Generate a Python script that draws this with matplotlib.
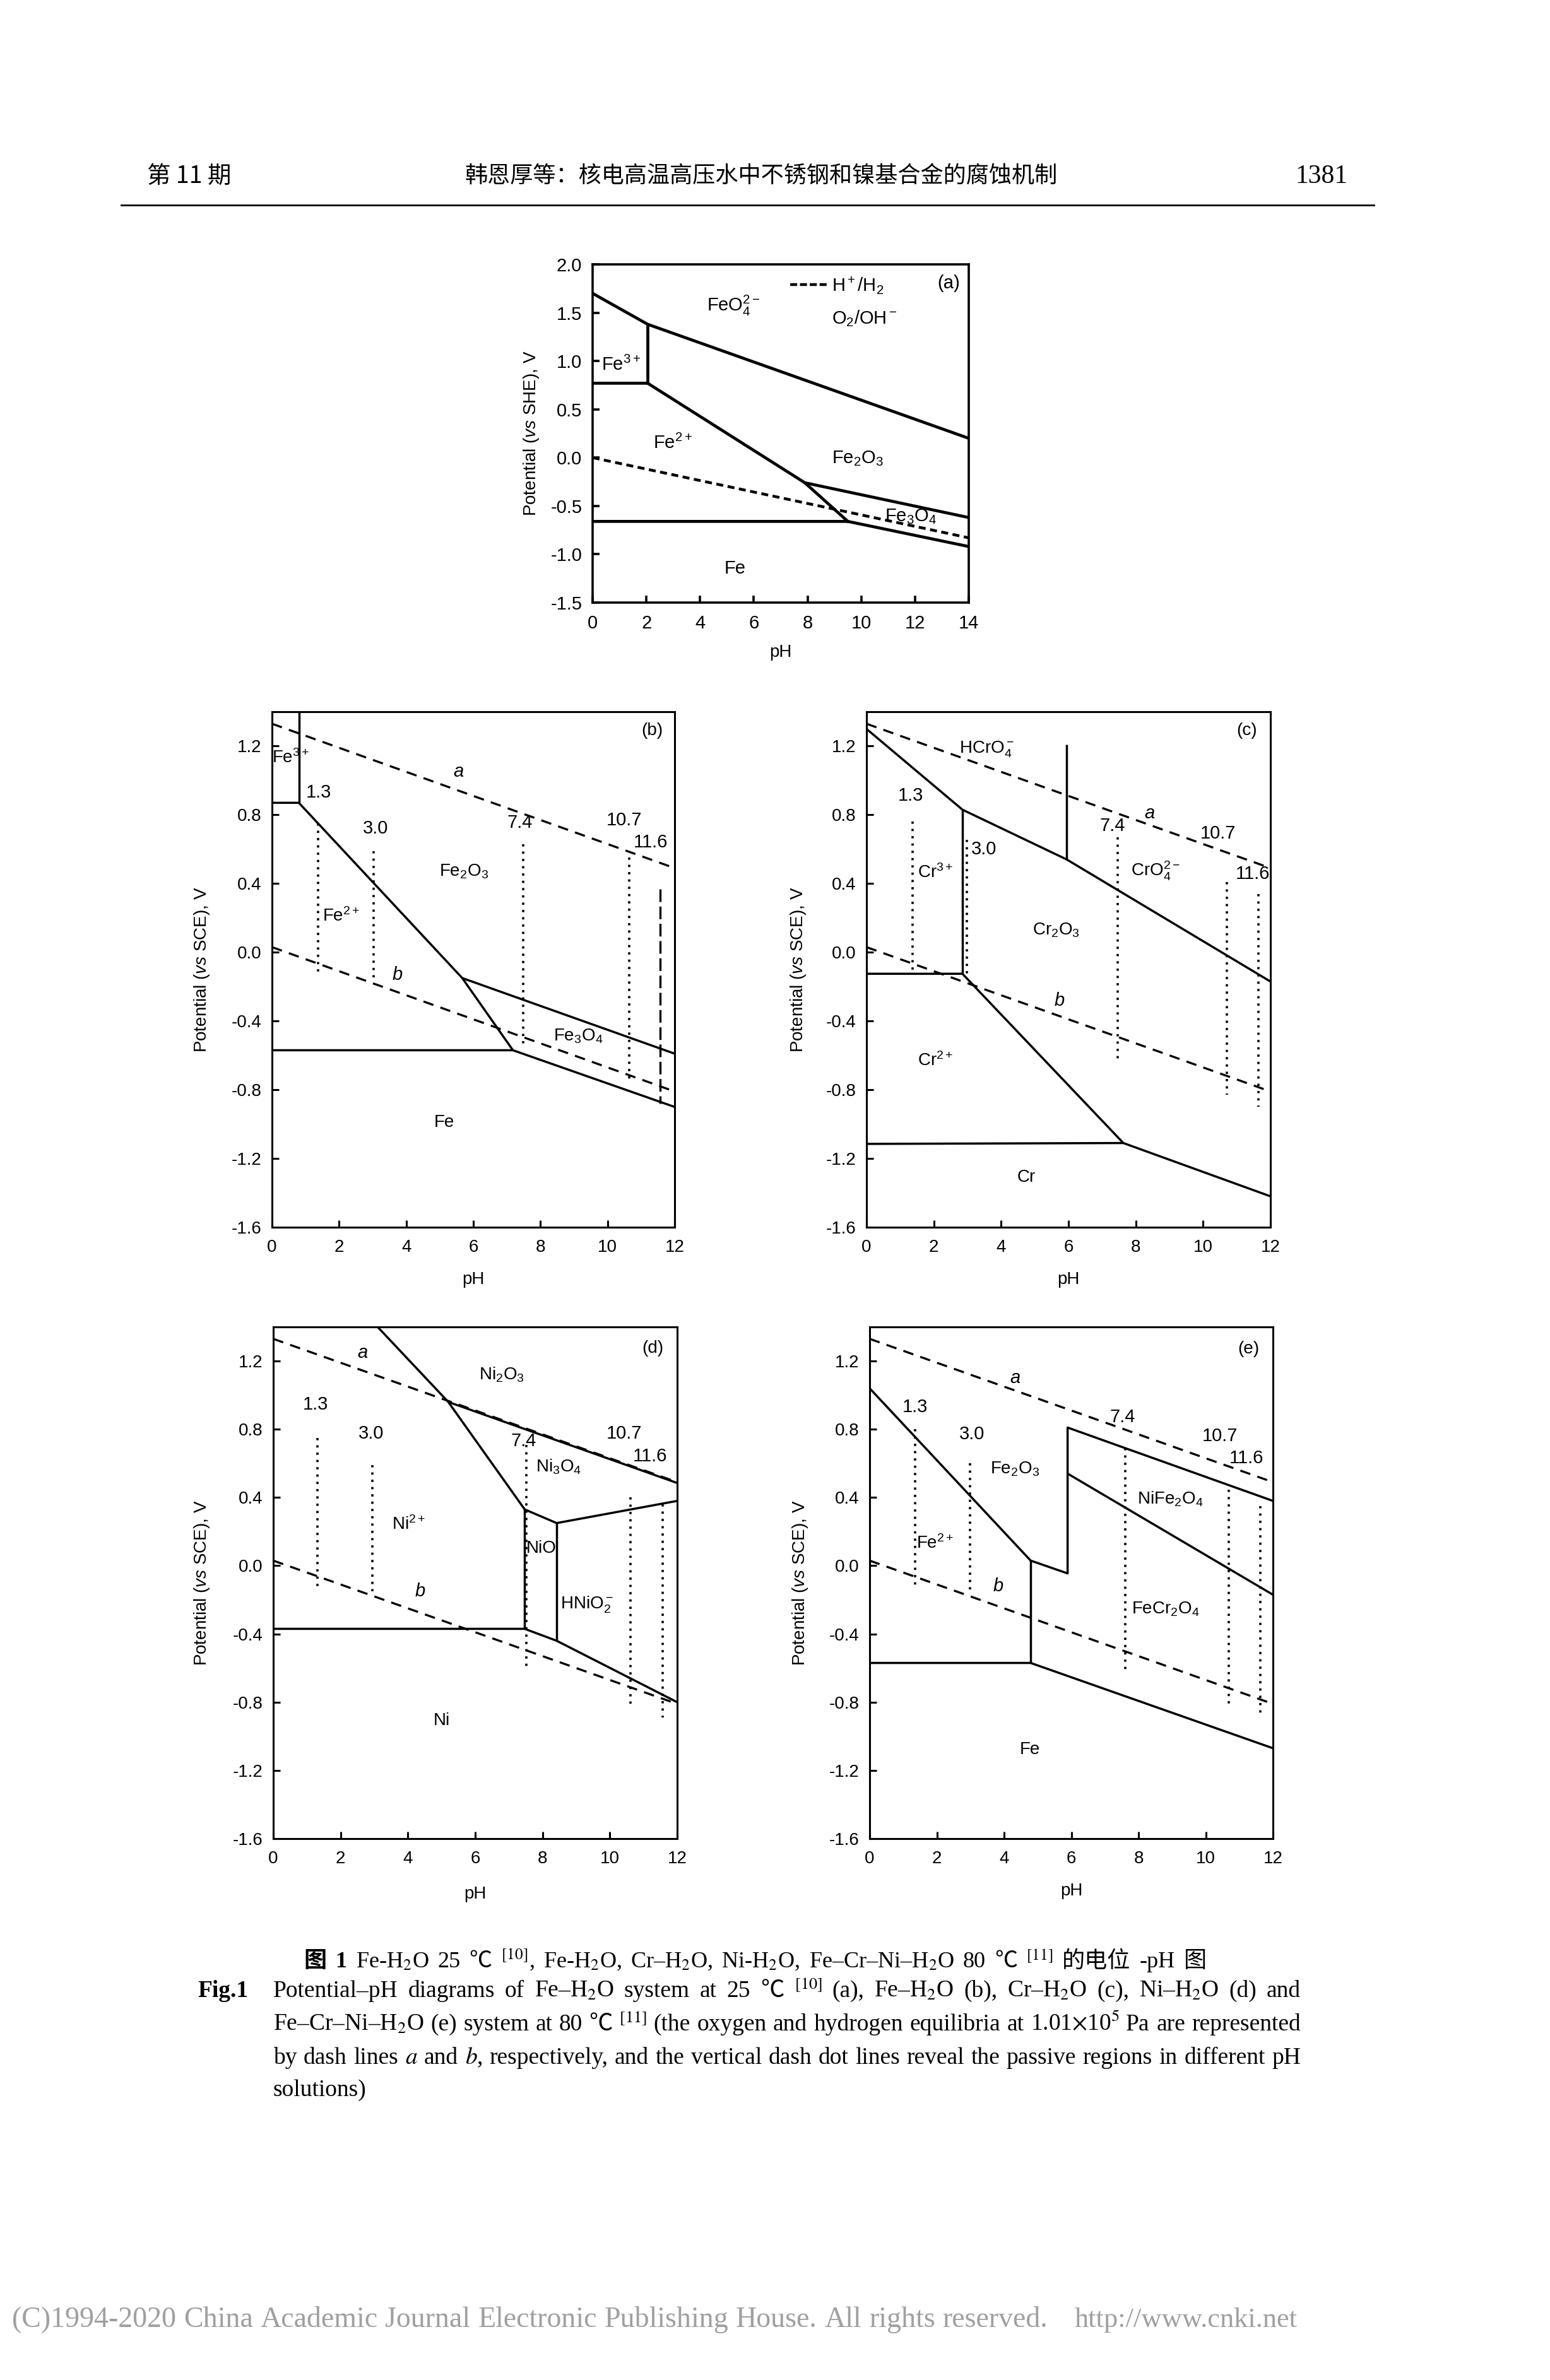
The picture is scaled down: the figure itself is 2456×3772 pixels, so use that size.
# -*- coding: utf-8 -*-
# Potential-pH diagrams (Fe/Cr/Ni - H2O), journal page layout

import numpy as np
import matplotlib
matplotlib.use('Agg')
import matplotlib.pyplot as plt
from matplotlib.lines import Line2D

plt.rcParams['font.family'] = ['Liberation Sans', 'DejaVu Sans']
plt.rcParams['mathtext.fontset'] = 'custom'
plt.rcParams['mathtext.rm'] = 'Liberation Sans'
plt.rcParams['mathtext.it'] = 'Liberation Sans:italic'
plt.rcParams['mathtext.bf'] = 'Liberation Sans:bold'
plt.rcParams['axes.unicode_minus'] = False

W, H = 2456, 3772

# ---------------- data: panel (a) Fe-H2O 25 C, vs SHE ----------------
a_solid = [
    ([0, 2.05, 14], [1.70, 1.38, 0.20]),
    ([2.05, 2.05], [1.38, 0.77]),
    ([0, 2.05, 7.9, 9.5], [0.77, 0.77, -0.26, -0.66]),
    ([7.9, 14], [-0.26, -0.62]),
    ([0, 9.5, 14], [-0.66, -0.66, -0.92]),
]
a_h2_ph = [0, 14]
a_h2_e = [0.0, -0.83]
a_legend_ph = [7.35, 8.73]
a_legend_e = [1.79, 1.79]
a_regions = [
    ('FeO$_4^{2-}$', 5.25, 1.57),
    ('Fe$^{3+}$', 1.05, 0.96),
    ('Fe$^{2+}$', 2.99, 0.15),
    ('Fe$_2$O$_3$', 9.87, -0.01),
    ('Fe$_3$O$_4$', 11.85, -0.61),
    ('Fe', 5.31, -1.15),
    ('(a)', 13.26, 1.805),
]

# water lines a (O2/H2O) and b (H+/H2) at 80 C, vs SCE
water_ph = [0, 12]
water_a = [1.33, 0.49]
water_b = [0.03, -0.81]

# ---------------- panel (b) Fe-H2O 80 C ----------------
b_solid = [
    ([0.8, 0.8], [1.40, 0.87]),
    ([0, 0.8, 5.67, 7.18], [0.87, 0.87, -0.15, -0.57]),
    ([5.67, 12], [-0.15, -0.59]),
    ([0, 7.18, 12], [-0.57, -0.57, -0.90]),
]
b_dotted = [(1.38, 0.75, -0.12), (3.02, 0.59, -0.15), (7.49, 0.63, -0.53), (10.64, 0.55, -0.75)]
b_dashed_v = [(11.57, 0.37, -0.88)]
b_phlab = [('1.3', 1.40, 0.93), ('3.0', 3.09, 0.72), ('7.4', 7.39, 0.755), ('10.7', 10.49, 0.77), ('11.6', 11.28, 0.64)]
b_ab = [(5.56, 1.05), (3.74, -0.13)]
b_regions = [
    ('Fe$^{3+}$', 0.55, 1.13),
    ('Fe$^{2+}$', 2.06, 0.21),
    ('Fe$_2$O$_3$', 5.72, 0.47),
    ('Fe$_3$O$_4$', 9.12, -0.49),
    ('Fe', 5.13, -0.99),
    ('(b)', 11.33, 1.29),
]

# ---------------- panel (c) Cr-H2O 80 C ----------------
c_solid = [
    ([0, 2.85, 5.95, 12], [1.30, 0.83, 0.54, -0.17]),
    ([5.95, 5.95], [0.54, 1.21]),
    ([2.85, 2.85], [0.83, -0.125]),
    ([0, 2.85, 7.63, 12], [-0.125, -0.125, -1.11, -1.42]),
    ([0, 7.63], [-1.115, -1.11]),
]
c_dotted = [(1.37, 0.76, -0.11), (2.99, 0.655, -0.155), (7.46, 0.67, -0.62), (10.70, 0.41, -0.83), (11.65, 0.34, -0.90)]
c_dashed_v = []
c_phlab = [('1.3', 1.32, 0.91), ('3.0', 3.48, 0.60), ('7.4', 7.31, 0.735), ('10.7', 10.45, 0.69), ('11.6', 11.48, 0.455)]
c_ab = [(8.41, 0.81), (5.74, -0.28)]
c_regions = [
    ('HCrO$_4^-$', 3.58, 1.18),
    ('CrO$_4^{2-}$', 8.59, 0.475),
    ('Cr$^{3+}$', 2.05, 0.465),
    ('Cr$_2$O$_3$', 5.64, 0.13),
    ('Cr$^{2+}$', 2.05, -0.63),
    ('Cr', 4.75, -1.31),
    ('(c)', 11.29, 1.29),
]

# ---------------- panel (d) Ni-H2O 80 C ----------------
d_solid = [
    ([3.1, 5.2, 7.47], [1.40, 0.96, 0.33]),
    ([5.2, 12], [0.96, 0.485]),
    ([7.47, 8.42, 12], [0.33, 0.25, 0.38]),
    ([7.47, 7.47], [0.33, -0.37]),
    ([8.42, 8.42], [0.25, -0.44]),
    ([0, 7.47, 8.42, 12], [-0.37, -0.37, -0.44, -0.80]),
]
d_dotted = [(1.32, 0.75, -0.125), (2.95, 0.59, -0.15), (7.51, 0.71, -0.615), (10.62, 0.40, -0.83), (11.56, 0.36, -0.89)]
d_dashed_v = []
d_phlab = [('1.3', 1.25, 0.945), ('3.0', 2.90, 0.775), ('7.4', 7.43, 0.73), ('10.7', 10.42, 0.775), ('11.6', 11.19, 0.64)]
d_ab = [(2.66, 1.25), (4.37, -0.15)]
d_regions = [
    ('Ni$_2$O$_3$', 6.79, 1.12),
    ('Ni$_3$O$_4$', 8.47, 0.58),
    ('Ni$^{2+}$', 4.02, 0.24),
    ('NiO', 7.97, 0.10),
    ('HNiO$_2^-$', 9.31, -0.23),
    ('Ni', 5.01, -0.91),
    ('(d)', 11.28, 1.275),
]

# ---------------- panel (e) Fe-Cr-Ni-H2O 80 C ----------------
e_solid = [
    ([0, 4.79, 5.89, 5.89, 12], [1.04, 0.03, -0.045, 0.81, 0.38]),
    ([5.89, 12], [0.54, -0.17]),
    ([4.79, 4.79], [0.03, -0.57]),
    ([0, 4.79, 12], [-0.57, -0.57, -1.07]),
]
e_dotted = [(1.36, 0.80, -0.14), (2.99, 0.60, -0.145), (7.60, 0.69, -0.63), (10.69, 0.445, -0.83), (11.63, 0.35, -0.89)]
e_dashed_v = []
e_phlab = [('1.3', 1.36, 0.93), ('3.0', 3.05, 0.77), ('7.4', 7.52, 0.87), ('10.7', 10.42, 0.76), ('11.6', 11.21, 0.63)]
e_ab = [(4.32, 1.10), (3.82, -0.12)]
e_regions = [
    ('Fe$_2$O$_3$', 4.32, 0.565),
    ('NiFe$_2$O$_4$', 8.95, 0.39),
    ('Fe$^{2+}$', 1.95, 0.13),
    ('FeCr$_2$O$_4$', 8.80, -0.255),
    ('Fe', 4.76, -1.08),
    ('(e)', 11.28, 1.27),
]

# ---------------- page text ----------------
header_left = '第 11 期'
header_mid = '韩恩厚等：核电高温高压水中不锈钢和镍基合金的腐蚀机制'
header_right = '1381'
cap_cn = '*图 *1 Fe-H$_2$O 25 ℃ $^{[10]}$, Fe-H$_2$O, Cr–H$_2$O, Ni-H$_2$O, Fe–Cr–Ni–H$_2$O 80 ℃ $^{[11]}$ 的电位 -pH 图'
cap_en = [
    'Potential–pH diagrams of Fe–H$_2$O system at 25 ℃ $^{[10]}$ (a), Fe–H$_2$O (b), Cr–H$_2$O (c), Ni–H$_2$O (d) and',
    'Fe–Cr–Ni–H$_2$O (e) system at 80 ℃ $^{[11]}$ (the oxygen and hydrogen equilibria at 1.01$\\times$10$^5$ Pa are represented',
    'by dash lines $a$ and $b$, respectively, and the vertical dash dot lines reveal the passive regions in different pH',
    'solutions)',
]
footer_1 = '(C)1994-2020 China Academic Journal Electronic Publishing House. All rights reserved.'
footer_2 = 'http://www.cnki.net'

fig = plt.figure(figsize=(W / 100, H / 100), dpi=100)
fig.patch.set_facecolor('white')


def box(x0, y0, x1, y1):
    # pixel box (top-left origin) -> figure fraction rect
    return [x0 / W, 1 - y1 / H, (x1 - x0) / W, (y1 - y0) / H]


def setup(ax, xmax, ylo, yhi, yticks, ylabel, tsize, lw, xl, yl):
    ax.set_xlim(0, xmax)
    ax.set_ylim(ylo, yhi)
    ax.set_xticks(np.arange(0, xmax + 1, 2))
    ax.set_yticks(yticks)
    ax.set_yticklabels(['%.1f' % (v + 0.0) if abs(v) > 1e-9 else '0.0' for v in yticks])
    ax.tick_params(direction='in', length=8, width=lw, labelsize=tsize,
                   top=False, right=False)
    ax.tick_params(axis='x', pad=14)
    ax.tick_params(axis='y', pad=12)
    for s in ax.spines.values():
        s.set_linewidth(lw)
    ax.set_xlabel('pH', fontsize=20)
    ax.set_ylabel(ylabel, fontsize=20)
    ax.xaxis.set_label_coords(0.5, xl)
    ax.xaxis.label.set_va('center')
    ax.yaxis.set_label_coords(yl, 0.5)
    ax.yaxis.label.set_va('center')


def panel(rect, solid, dotted, dashed_v, phlab, ab, regions, xl, yl):
    ax = fig.add_axes(rect)
    yt = np.round(np.arange(-1.6, 1.25, 0.4), 1)
    setup(ax, 12, -1.6, 1.4, yt, 'Potential ($\\it{vs}$ SCE), V', 20, 2.2, xl, yl)
    for xs, ys in solid:
        ax.plot(xs, ys, color='black', lw=2.5, solid_capstyle='butt')
    ax.plot(water_ph, water_a, color='black', lw=2.4, ls=(0, (5, 3.5)))
    ax.plot(water_ph, water_b, color='black', lw=2.4, ls=(0, (5, 3.5)))
    for x, y0, y1 in dotted:
        ax.plot([x, x], [y0, y1], color='black', lw=2.6, ls=(0, (1, 2.2)))
    for x, y0, y1 in dashed_v:
        ax.plot([x, x], [y0, y1], color='black', lw=2.4, ls=(0, (6, 2.2)))
    for s, x, y in phlab:
        ax.text(x, y, s, ha='center', va='center', fontsize=21)
    for s, (x, y) in zip(['a', 'b'], ab):
        ax.text(x, y, s, ha='center', va='center', fontsize=21, style='italic')
    for s, x, y in regions:
        ax.text(x, y, s, ha='center', va='center', fontsize=20)
    return ax


# panel (a)
axa = fig.add_axes(box(939, 419, 1535, 955))
setup(axa, 14, -1.5, 2.0, np.round(np.arange(-1.5, 2.01, 0.5), 1),
      'Potential ($\\it{vs}$ SHE), V', 21, 2.6, -0.147, -0.163)
for xs, ys in a_solid:
    axa.plot(xs, ys, color='black', lw=3.4)
axa.plot(a_h2_ph, a_h2_e, color='black', lw=3.2, ls=(0, (2.5, 1.6)))
axa.plot(a_legend_ph, a_legend_e, color='black', lw=3.2, ls=(0, (2.5, 1.0)))
axa.text(8.91, 1.78, 'H$^+$/H$_2$', ha='left', va='center', fontsize=21)
axa.text(8.91, 1.44, 'O$_2$/OH$^-$', ha='left', va='center', fontsize=21)
for s, x, y in a_regions:
    axa.text(x, y, s, ha='center', va='center', fontsize=21)

panel(box(431, 1128, 1069, 1945), b_solid, b_dotted, b_dashed_v, b_phlab, b_ab, b_regions, -0.1016, -0.174)
panel(box(1373, 1128, 2013, 1945), c_solid, c_dotted, c_dashed_v, c_phlab, c_ab, c_regions, -0.1016, -0.169)
panel(box(433, 2103, 1073, 2914), d_solid, d_dotted, d_dashed_v, d_phlab, d_ab, d_regions, -0.1085, -0.177)
panel(box(1378, 2103, 2017, 2914), e_solid, e_dotted, e_dashed_v, e_phlab, e_ab, e_regions, -0.102, -0.172)

# ---------------- header ----------------
cjk = ['Noto Sans CJK SC', 'DejaVu Sans']
fig.text(233 / W, 1 - 290 / H, header_left, family=cjk, fontsize=27, ha='left', va='baseline')
fig.text(1206 / W, 1 - 290 / H, header_mid, family=cjk, fontsize=26, ha='center', va='baseline')
fig.text(2136 / W, 1 - 290 / H, header_right, family=['Liberation Serif'], fontsize=30, ha='right', va='baseline')
fig.add_artist(Line2D([192 / W, 2177 / W], [1 - 325 / H, 1 - 325 / H], lw=2, color='black',
                      transform=fig.transFigure))


# ---------------- caption / footer ----------------
def put_words(line, x0, y, x1=None, size=24, color='black', space=10):
    r = fig.canvas.get_renderer()
    while True:
        objs = []
        for tok in line.split(' '):
            bold = tok.startswith('*')
            s = tok.lstrip('*')
            kw = dict(fontsize=size, color=color, va='baseline', ha='left',
                      weight='bold' if bold else 'normal')
            if any(ord(c) >= 0x2100 for c in s):
                kw['family'] = ['Noto Sans CJK SC', 'Liberation Serif']
            else:
                kw['family'] = ['Liberation Serif']
                kw['math_fontfamily'] = 'stix'
            objs.append(fig.text(x0 / W, 1 - y / H, s, **kw))
        widths = [t.get_window_extent(r).width for t in objs]
        if x1 is None or len(objs) < 2:
            gap = space
            break
        gap = (x1 - x0 - sum(widths)) / (len(objs) - 1)
        if gap >= 0.2 * size:
            break
        for t in objs:
            t.remove()
        size *= 0.97
    x = x0
    for t, w in zip(objs, widths):
        t.set_x(x / W)
        x += w + gap


put_words(cap_cn, 481, 3118, 1912, size=26)
fig.text(313 / W, 1 - 3165 / H, 'Fig.1', family=['Liberation Serif'], weight='bold',
         fontsize=27, ha='left', va='baseline')
cap_y = [3165, 3218, 3271, 3322]
for i, (ln, y) in enumerate(zip(cap_en, cap_y)):
    put_words(ln, 433, y, 2061 if i < len(cap_en) - 1 else None, size=27, space=12)

put_words(footer_1, 19, 3688, 1660, size=33, color='#a0a0a0')
put_words(footer_2, 1703, 3688, None, size=32, color='#a0a0a0')

fig.savefig('out.png', dpi=100, facecolor='white')
